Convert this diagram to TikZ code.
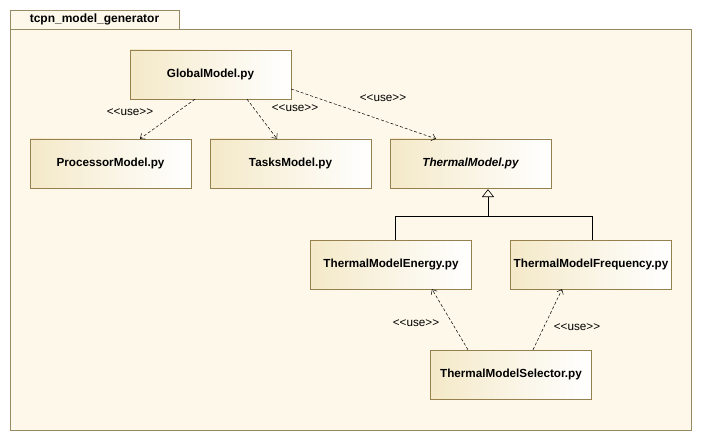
\documentclass[tikz,border=0pt]{standalone}
\usepackage{fontspec}
\setmainfont{Liberation Sans}
\usepackage{tikz}
\usetikzlibrary{arrows.meta}
\usetikzlibrary{calc}
\usetikzlibrary{positioning}
\definecolor{pkgfill}{RGB}{253,248,233}
\definecolor{pkgline}{RGB}{150,138,100}
\definecolor{boxline}{RGB}{150,128,78}
\definecolor{boxleft}{RGB}{244,233,200}
\newcommand{\usetxt}{<\kern0pt<use>\kern0pt>}
\tikzset{
    file box/.style={
        draw=boxline,
        left color=boxleft,
        right color=white,
        minimum width=161pt,
        minimum height=49pt,
        inner sep=0pt,
        font=\fontsize{11.7}{13}\selectfont\bfseries
    },
    use label/.style={
        font=\fontsize{11.7}{13}\selectfont,
        inner sep=0pt
    },
    use/.style={
        densely dashed,
        -{Straight Barb[length=4pt,width=7pt]},
        line width=0.5pt
    }
}

\begin{document}
\begin{tikzpicture}[x=1pt,y=-1pt]
            \useasboundingbox (0,0) rectangle (701,441);
            % package frame
            \draw[pkgline,fill=pkgfill] (10,10) rectangle (179,29);
            \draw[pkgline,fill=pkgfill] (10,29) rectangle (691,430);
            \node[font=\fontsize{12}{13}\selectfont\bfseries] (pkg) at (94.5,19.5) {tcpn\_model\_generator};
            % files
            \node[file box] (gm) at (210.5,74.5) {GlobalModel.py};
            \node[file box] (pm) at (110.5,163.5) {ProcessorModel.py};
            \node[file box] (tm) at (290.5,163.5) {TasksModel.py};
            \node[file box,font=\fontsize{11.7}{13}\selectfont\bfseries\itshape] (thm) at (470.5,163.5) {ThermalModel.py};
            \node[file box] (en) at (391,264.5) {ThermalModelEnergy.py};
            \node[file box] (fr) at (591,264.5) {ThermalModelFrequency.py};
            \node[file box] (sel) at (511,374.5) {ThermalModelSelector.py};
            % generalisation
            \coordinate (tip) at ($(thm.south)+(17.5,1.5)$);
            \coordinate (tbase) at ($(tip)+(0,7)$);
            \coordinate (fork) at ($(tbase)+(0,19.5)$);
            \draw[line width=0.6pt,fill=pkgfill] (tip) -- ++(-5.5,7) -- ++(11,0) -- cycle;
            \draw[line width=0.6pt] (tbase) -- (fork);
            \draw[line width=0.6pt] ([xshift=4pt]en.north) |- (fork) -| ([xshift=1pt]fr.north);
            % dependencies
            \draw[use] ([xshift=-15.5pt]gm.south) -- ([xshift=29.5pt]pm.north);
            \draw[use] ([xshift=36.5pt]gm.south) -- ([xshift=-13.5pt]tm.north);
            \draw[use] ([yshift=-14.5pt]gm.east) -- ([xshift=-34.5pt]thm.north);
            \draw[use] ([xshift=-43pt]sel.north) -- ([xshift=41pt]en.south);
            \draw[use] ([xshift=22pt]sel.north) -- ([xshift=-29pt]fr.south);
            \node[use label] (u1) at (130,112) {\usetxt};
            \node[use label] (u2) at (295,108) {\usetxt};
            \node[use label] (u3) at (383,98) {\usetxt};
            \node[use label] (u4) at (416,323) {\usetxt};
            \node[use label] (u5) at (577,327) {\usetxt};
\end{tikzpicture}
\end{document}
